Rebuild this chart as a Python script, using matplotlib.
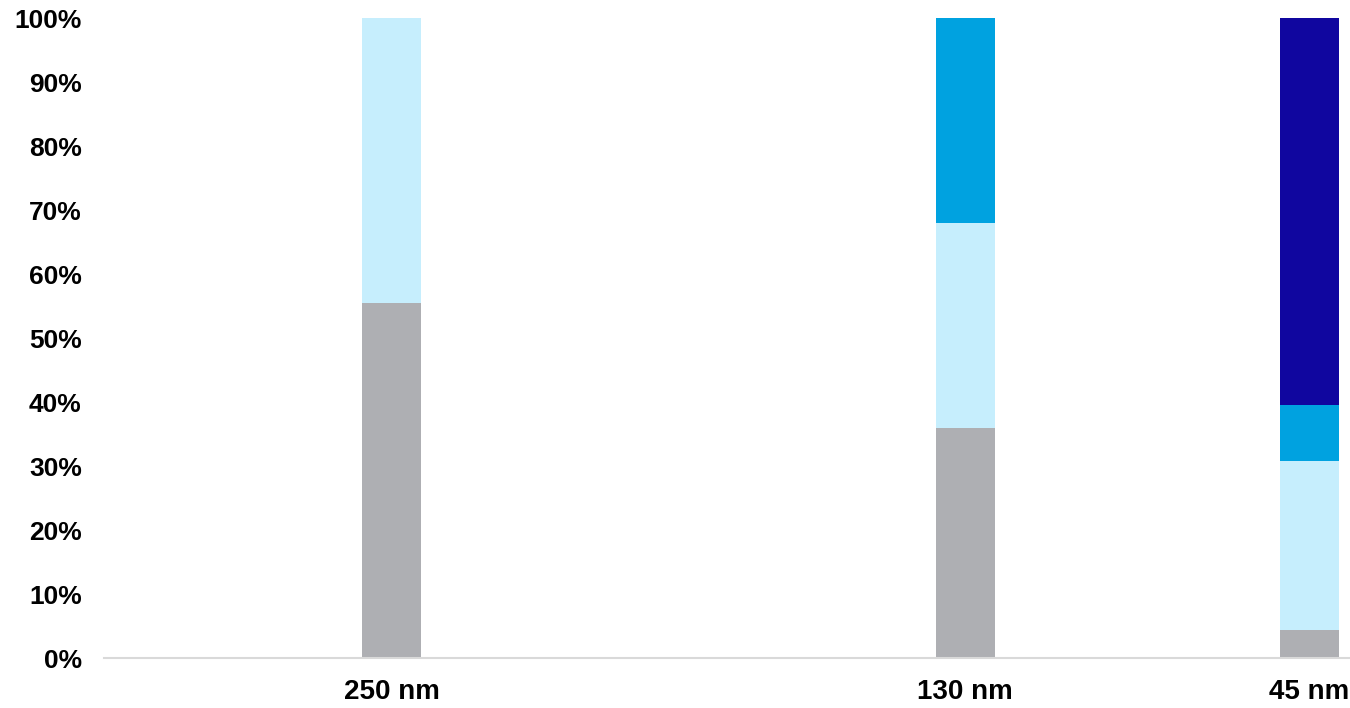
import numpy as np
import matplotlib.pyplot as plt
from matplotlib.ticker import PercentFormatter

nodes = ['250 nm', '130 nm', '45 nm']
gray_share = [55.5, 35.9, 4.4]
light_share = [44.5, 32.1, 26.4]
blue_share = [0.0, 32.0, 8.7]
navy_share = [0.0, 0.0, 60.5]

plt.rcParams['font.family'] = ['Liberation Sans', 'DejaVu Sans']

fig = plt.figure(figsize=(13.5, 7.08), dpi=100)
ax = fig.add_axes([104 / 1350, 50 / 708, 1246 / 1350, 640 / 708])

xpos = [287.5, 861, 1205.5]
w = 59
layers = [(gray_share, '#AEAFB3'), (light_share, '#C6EEFD'),
          (blue_share, '#00A2E0'), (navy_share, '#10069F')]
bottom = np.zeros(len(nodes))
for vals, col in layers:
    ax.bar(xpos, vals, w, bottom=bottom, color=col, linewidth=0)
    bottom += np.array(vals)

ax.set_xlim(0, 1246)
ax.set_ylim(0, 100)
ax.set_yticks(np.arange(0, 101, 10))
ax.yaxis.set_major_formatter(PercentFormatter(decimals=0))
ax.set_xticks(xpos)
ax.set_xticklabels(nodes)
for s in ['top', 'right', 'left']:
    ax.spines[s].set_visible(False)
ax.spines['bottom'].set_color('#D9D9D9')
ax.spines['bottom'].set_linewidth(1.5)
ax.tick_params(axis='both', length=0)
ax.tick_params(axis='y', pad=16, labelsize=19)
ax.tick_params(axis='x', pad=15, labelsize=20)
for t in ax.get_xticklabels() + ax.get_yticklabels():
    t.set_fontweight('bold')

fig.savefig('out.png', dpi=100)
